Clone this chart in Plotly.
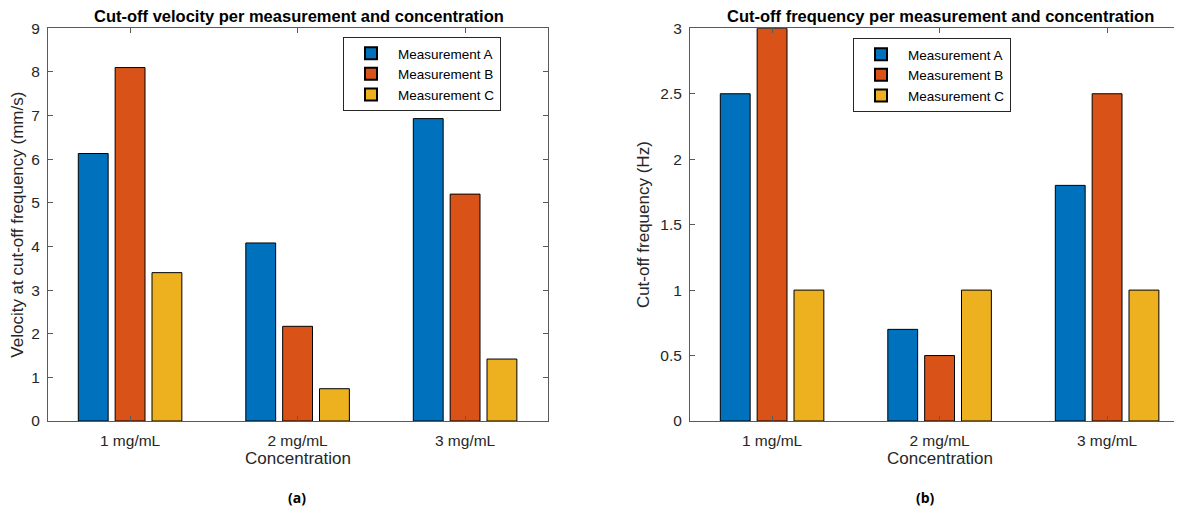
import plotly.graph_objects as go

categories = ["1 mg/mL", "2 mg/mL", "3 mg/mL"]
series_names = ["Measurement A", "Measurement B", "Measurement C"]
velocity_A = [6.13, 4.08, 6.93]
velocity_B = [8.10, 2.17, 5.20]
velocity_C = [3.40, 0.74, 1.42]
freq_A = [2.5, 0.7, 1.8]
freq_B = [3.0, 0.5, 2.5]
freq_C = [1.0, 1.0, 1.0]
colors = ["#0072BD", "#D95319", "#EDB120"]
vel_ticks = [0, 1, 2, 3, 4, 5, 6, 7, 8, 9]
freq_ticks = [0, 0.5, 1, 1.5, 2, 2.5, 3]
freq_ticklabels = ["0", "0.5", "1", "1.5", "2", "2.5", "3"]

W, H = 1182, 514
OFF = 8  # page body margin offset in the browser
FONT = "Liberation Sans, Arial, sans-serif"
TXT = "#262626"
AX = "#5a5a5a"

def px_x(p):
    return (p - OFF) / W

def px_y(p):
    return 1 - (p - OFF) / H

fig = go.Figure()
xpos = [1, 2, 3]
for name, vals, c in zip(series_names, [velocity_A, velocity_B, velocity_C], colors):
    fig.add_trace(go.Bar(x=xpos, y=vals, name=name, marker=dict(color=c, line=dict(color="black", width=1)),
                         xaxis="x", yaxis="y", legend="legend"))
for name, vals, c in zip(series_names, [freq_A, freq_B, freq_C], colors):
    fig.add_trace(go.Bar(x=xpos, y=vals, name=name, marker=dict(color=c, line=dict(color="black", width=1)),
                         xaxis="x2", yaxis="y2", legend="legend2"))

ydom = [px_y(421), px_y(28.3)]
axis_common = dict(showline=True, linecolor=AX, linewidth=1, ticks="inside", ticklen=5, tickcolor=AX,
                   showgrid=False, zeroline=False, automargin=False,
                   tickfont=dict(family=FONT, size=15.5, color=TXT))
TFONT = dict(family=FONT, size=17, color=TXT)
LEGFONT = dict(family=FONT, size=13.5, color="black")

fig.update_layout(
    template="none",
    width=W, height=H, margin=dict(l=0, r=0, t=0, b=0, pad=0),
    paper_bgcolor="white", plot_bgcolor="white",
    barmode="group", bargap=0.34, bargroupgap=0.19,
    font=dict(family=FONT, color=TXT),
    xaxis=dict(domain=[px_x(48), px_x(548)], range=[0.51, 3.495], tickvals=xpos, ticktext=categories,
               mirror="ticks", anchor="y", ticklabelstandoff=5,
               title=dict(text="Concentration", font=TFONT, standoff=3),
               **axis_common),
    yaxis=dict(domain=ydom, range=[0, 9], tickvals=vel_ticks, mirror="ticks", anchor="x",
               ticklabelstandoff=4,
               title=dict(text="Velocity at cut-off frequency (mm/s)", font=TFONT, standoff=6),
               **axis_common),
    xaxis2=dict(domain=[px_x(690), 1.0], range=[0.51, 3.495], tickvals=xpos, ticktext=categories,
                mirror="ticks", anchor="y2", ticklabelstandoff=5,
                title=dict(text="Concentration", font=TFONT, standoff=3),
                **axis_common),
    yaxis2=dict(domain=ydom, range=[0, 3], tickvals=freq_ticks, ticktext=freq_ticklabels, mirror=False, anchor="x2",
                ticklabelstandoff=4,
                title=dict(text="Cut-off frequency (Hz)", font=TFONT, standoff=6),
                **axis_common),
    legend=dict(x=px_x(343), y=px_y(37), xanchor="left", yanchor="top", bgcolor="white",
                bordercolor="#262626", borderwidth=1, font=LEGFONT, itemwidth=44,
                tracegroupgap=0, itemsizing="constant"),
    legend2=dict(x=px_x(853), y=px_y(38), xanchor="left", yanchor="top", bgcolor="white",
                 bordercolor="#262626", borderwidth=1, font=LEGFONT, itemwidth=44,
                 tracegroupgap=0, itemsizing="constant"),
    annotations=[
        dict(text="<b>Cut-off velocity per measurement and concentration</b>", x=px_x(299), y=px_y(16),
             xref="paper", yref="paper", xanchor="center", yanchor="middle", showarrow=False,
             font=dict(family=FONT, size=16.5, color="black")),
        dict(text="<b>Cut-off frequency per measurement and concentration</b>", x=px_x(940), y=px_y(16),
             xref="paper", yref="paper", xanchor="center", yanchor="middle", showarrow=False,
             font=dict(family=FONT, size=16.5, color="black")),
        dict(text="<b>(a)</b>", x=px_x(297), y=px_y(497), xref="paper", yref="paper",
             xanchor="center", yanchor="middle", showarrow=False,
             font=dict(family="Open Sans, sans-serif", size=14, color="black")),
        dict(text="<b>(b)</b>", x=px_x(925), y=px_y(497), xref="paper", yref="paper",
             xanchor="center", yanchor="middle", showarrow=False,
             font=dict(family="Open Sans, sans-serif", size=14, color="black")),
    ],
)

fig.write_html("out.html")
